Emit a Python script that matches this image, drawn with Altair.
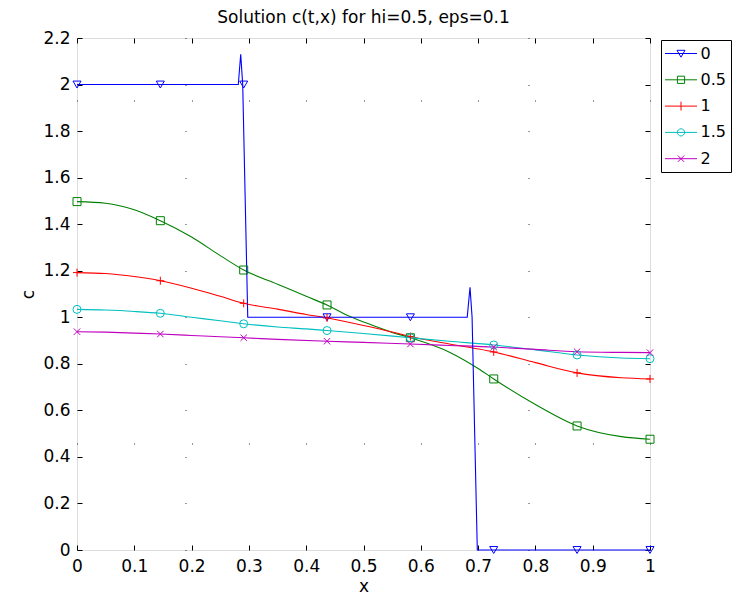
import altair as alt
import pandas as pd

TITLE = "Solution c(t,x) for hi=0.5, eps=0.1"
SERIES = ["0", "0.5", "1", "1.5", "2"]
COLORS = ["#0000ff", "#008000", "#ff0000", "#00bfbf", "#bf00bf"]

X_TICKS = [0, 0.1, 0.2, 0.3, 0.4, 0.5, 0.6, 0.7, 0.8, 0.9, 1.0]
Y_TICKS = [0, 0.2, 0.4, 0.6, 0.8, 1.0, 1.2, 1.4, 1.6, 1.8, 2.0, 2.2]

# t = 0 (step profile)
X_T0 = [0, 0.2815, 0.2857, 0.2892, 0.2980, 0.681, 0.6859, 0.6895, 0.6986, 1.0]
C_T0 = [2.0, 2.0, 2.13, 2.0, 1.0, 1.0, 1.129, 1.0, 0.0, 0.0]

# t = 0.5
X_T05 = [0, 0.05, 0.1, 0.1455, 0.2, 0.25, 0.2909, 0.35, 0.4, 0.4364, 0.4764, 0.5,
         0.55, 0.5818, 0.65, 0.7, 0.7273, 0.8, 0.8727, 0.95, 1.0]
C_T05 = [1.497, 1.49, 1.462, 1.415, 1.345, 1.265, 1.203, 1.142, 1.09, 1.053, 1.003, 0.98,
         0.935, 0.912, 0.85, 0.78, 0.735, 0.625, 0.533, 0.487, 0.476]

# t = 1
X_T1 = [0, 0.05, 0.1, 0.1455, 0.2, 0.25, 0.2909, 0.35, 0.4, 0.4364, 0.5, 0.55,
        0.5818, 0.65, 0.7, 0.7273, 0.8, 0.8727, 0.95, 1.0]
C_T1 = [1.192, 1.188, 1.175, 1.157, 1.125, 1.09, 1.06, 1.035, 1.012, 0.997, 0.965, 0.937,
        0.917, 0.885, 0.864, 0.851, 0.805, 0.761, 0.74, 0.735]

# t = 1.5
X_T15 = [0, 0.05, 0.1, 0.1455, 0.2, 0.25, 0.2909, 0.35, 0.4, 0.4364, 0.5, 0.5818,
         0.65, 0.7273, 0.8, 0.8727, 0.95, 1.0]
C_T15 = [1.034, 1.031, 1.025, 1.017, 1.0, 0.985, 0.972, 0.958, 0.95, 0.943, 0.93, 0.912,
         0.897, 0.881, 0.86, 0.838, 0.825, 0.822]

# t = 2
X_T2 = [0, 0.05, 0.1, 0.1455, 0.2, 0.25, 0.2909, 0.35, 0.4364, 0.5, 0.5818, 0.65,
        0.7273, 0.8, 0.8727, 0.95, 1.0]
C_T2 = [0.938, 0.936, 0.932, 0.928, 0.922, 0.916, 0.912, 0.905, 0.897, 0.892, 0.885, 0.879,
        0.872, 0.862, 0.852, 0.849, 0.848]

# marker positions
MARKER_X = [0, 0.14545, 0.29091, 0.43636, 0.58182, 0.72727, 0.87273, 1.0]
M_T0 = [2.0, 2.0, 2.0, 1.0, 1.0, 0.0, 0.0, 0.0]
M_T05 = [1.497, 1.415, 1.203, 1.053, 0.912, 0.735, 0.533, 0.476]
M_T1 = [1.192, 1.157, 1.06, 0.997, 0.917, 0.851, 0.761, 0.735]
M_T15 = [1.034, 1.017, 0.972, 0.943, 0.912, 0.881, 0.838, 0.822]
M_T2 = [0.938, 0.928, 0.912, 0.897, 0.885, 0.872, 0.852, 0.848]

PLUS = "M-1,0L1,0M0,-1L0,1"
XMARK = "M-0.8,-0.8L0.8,0.8M-0.8,0.8L0.8,-0.8"
SHAPES = ["triangle-down", "square", PLUS, "circle", XMARK]

LINE = "M-2,0L2,0"
LEG_SHAPES = [
    LINE + "M-0.5,-0.4L0.5,-0.4L0,0.46Z",
    LINE + "M-0.45,-0.45L0.45,-0.45L0.45,0.45L-0.45,0.45Z",
    LINE + "M0,-0.55L0,0.55",
    LINE + "M0.45,0A0.45,0.45 0 1 1 -0.45,0A0.45,0.45 0 1 1 0.45,0",
    LINE + "M-0.4,-0.4L0.4,0.4M-0.4,0.4L0.4,-0.4",
]

curves = [(X_T0, C_T0), (X_T05, C_T05), (X_T1, C_T1), (X_T15, C_T15), (X_T2, C_T2)]
markers = [M_T0, M_T05, M_T1, M_T15, M_T2]

rows = []
for s, (xs, cs) in zip(SERIES, curves):
    for i, (xv, cv) in enumerate(zip(xs, cs)):
        rows.append({"series": s, "x": xv, "c": cv, "i": i})
df_lines = pd.DataFrame(rows)
df_step = df_lines[df_lines["series"] == "0"]
df_smooth = df_lines[df_lines["series"] != "0"]

prow = []
for s, ms in zip(SERIES, markers):
    for xv, cv in zip(MARKER_X, ms):
        prow.append({"series": s, "x": xv, "c": cv})
df_pts = pd.DataFrame(prow)

W, H = 573, 512
FONT = "DejaVu Sans"

xscale = alt.Scale(domain=[0, 1], nice=False, zero=False)
yscale = alt.Scale(domain=[0, 2.2], nice=False, zero=False)

X_MAIN = alt.Axis(orient="bottom", values=X_TICKS, format="~g", labelFont=FONT, labelFontSize=17,
                  labelColor="black", labelPadding=8, ticks=False, tickSize=0, domain=False,
                  grid=True, gridDash=[1, 342], gridDashOffset=281, gridColor="black", gridOpacity=0.8,
                  title="x", titleFont=FONT, titleFontSize=17, titleFontWeight="normal",
                  titleColor="black", titlePadding=4, labelFlush=False)
X_TICK_B = alt.Axis(orient="top", offset=-H, values=X_TICKS, labels=False, ticks=True, tickSize=5,
                    tickColor="black", domain=False, grid=False, title=None)
X_TICK_T = alt.Axis(orient="bottom", offset=-H, values=X_TICKS, labels=False, ticks=True, tickSize=5,
                    tickColor="black", domain=False, grid=False, title=None)

Y_MAIN = alt.Axis(orient="left", values=Y_TICKS, format="~g", labelFont=FONT, labelFontSize=17,
                  labelColor="black", labelPadding=7, ticks=False, tickSize=0, domain=False,
                  grid=True, gridDash=[1, 342], gridDashOffset=235, gridColor="black", gridOpacity=0.8,
                  title="c", titleFont=FONT, titleFontSize=17, titleFontWeight="normal",
                  titleColor="black", titlePadding=5, labelFlush=False)
Y_TICK_L = alt.Axis(orient="right", offset=-W, values=Y_TICKS, labels=False, ticks=True, tickSize=5,
                    tickColor="black", domain=False, grid=False, title=None)
Y_TICK_R = alt.Axis(orient="left", offset=-W, values=Y_TICKS, labels=False, ticks=True, tickSize=5,
                    tickColor="black", domain=False, grid=False, title=None)

cscale = alt.Scale(domain=SERIES, range=COLORS)

smooth = alt.Chart(df_smooth).mark_line(strokeWidth=1.1, interpolate="monotone").encode(
    x=alt.X("x:Q", scale=xscale, axis=X_MAIN),
    y=alt.Y("c:Q", scale=yscale, axis=Y_MAIN),
    color=alt.Color("series:N", scale=cscale, legend=None),
    order="i:Q",
)

step = alt.Chart(df_step).mark_line(strokeWidth=1.1).encode(
    x=alt.X("x:Q", scale=xscale, axis=None),
    y=alt.Y("c:Q", scale=yscale, axis=None),
    color=alt.Color("series:N", scale=cscale, legend=None),
    order="i:Q",
)

points = alt.Chart(df_pts).mark_point(filled=False, size=64, strokeWidth=1, opacity=1).encode(
    x=alt.X("x:Q", scale=xscale, axis=X_TICK_B),
    y=alt.Y("c:Q", scale=yscale, axis=Y_TICK_L),
    color=alt.Color("series:N", scale=cscale, legend=None),
    shape=alt.Shape("series:N", scale=alt.Scale(domain=SERIES, range=SHAPES), legend=None),
)

LEG = alt.Legend(orient="none", legendX=584, legendY=2, title=None, labelFont=FONT, labelFontSize=16,
                 labelColor="black", symbolSize=256, symbolStrokeWidth=1, symbolOpacity=1,
                 symbolOffset=6.5, strokeColor="black", fillColor="white", padding=5,
                 rowPadding=9.3, labelOffset=11, cornerRadius=0)

dummy = alt.Chart(df_pts).mark_point(filled=False, size=64, strokeWidth=1, opacity=0).encode(
    x=alt.X("x:Q", scale=xscale, axis=X_TICK_T),
    y=alt.Y("c:Q", scale=yscale, axis=Y_TICK_R),
    color=alt.Color("series:N", scale=cscale, legend=LEG),
    shape=alt.Shape("series:N", scale=alt.Scale(domain=SERIES, range=LEG_SHAPES), legend=LEG),
)

chart = alt.layer(smooth, step, points, dummy).resolve_axis(
    x="independent", y="independent"
).resolve_scale(
    color="independent", shape="independent"
).properties(
    width=W, height=H,
    title=alt.TitleParams(TITLE, font=FONT, fontSize=17, fontWeight="normal", color="black",
                          anchor="middle", frame="group", offset=2),
    autosize=alt.AutoSizeParams(type="none"),
    padding={"left": 69, "top": 30, "right": 85, "bottom": 47},
).configure_view(stroke="black", strokeWidth=1).configure(background="white")

chart.save("out.html", embed_options={"renderer": "svg", "actions": False})
